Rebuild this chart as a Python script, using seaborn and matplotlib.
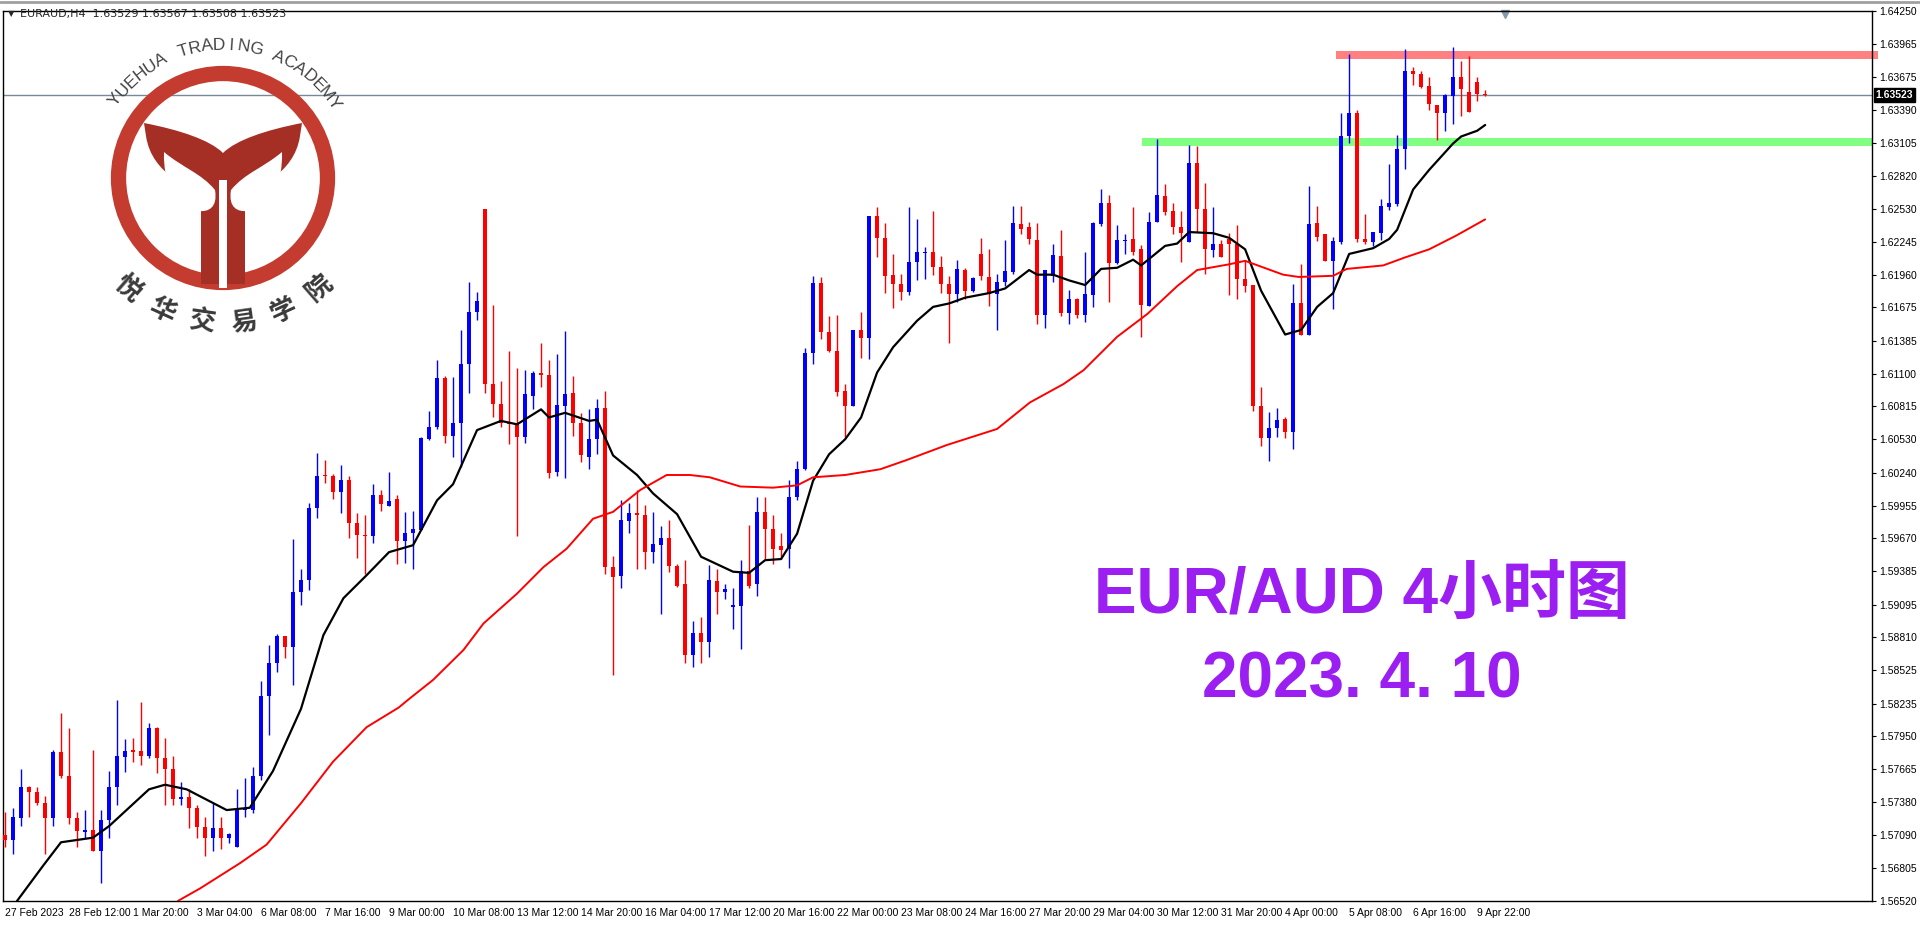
import numpy as np
import pandas as pd
import seaborn as sns
import matplotlib.pyplot as plt
from matplotlib.patches import Circle, PathPatch, Rectangle
from matplotlib.path import Path

# ---- candles ----
opens = [
    1.5709, 1.5705, 1.5724, 1.5751, 1.5747, 1.5737, 1.5724, 1.5781, 1.5761, 1.5724,
    1.5712, 1.5714, 1.5695, 1.5722, 1.5751, 1.5777, 1.5783, 1.5782, 1.5778, 1.5802,
    1.5776, 1.5767, 1.5741, 1.5742, 1.5733, 1.5716, 1.5707, 1.5715, 1.5707, 1.5699,
    1.5731, 1.5731, 1.5761, 1.5830, 1.5859, 1.5882, 1.5873, 1.5920, 1.5931, 1.5993,
    1.6022, 1.6021, 1.6007, 1.6018, 1.5980, 1.5970, 1.5969, 1.6005, 1.5995, 1.6001,
    1.5965, 1.5972, 1.5974, 1.6053, 1.6064, 1.6106, 1.6056, 1.6067, 1.6118, 1.6164,
    1.6253, 1.6101, 1.6084, 1.6067, 1.6067, 1.6055, 1.6091, 1.6111, 1.6109, 1.6025,
    1.6082, 1.6093, 1.6067, 1.6038, 1.6053, 1.6080, 1.5942, 1.5934, 1.5982, 1.5989,
    1.5987, 1.5955, 1.5961, 1.5967, 1.5943, 1.5927, 1.5866, 1.5885, 1.5877, 1.5930,
    1.5920, 1.5907, 1.5908, 1.5939, 1.5927, 1.5990, 1.5975, 1.5960, 1.5958, 1.6003,
    1.6027, 1.6128, 1.6189, 1.6146, 1.6130, 1.6095, 1.6082, 1.6148, 1.6141, 1.6247,
    1.6228, 1.6196, 1.6188, 1.6181, 1.6207, 1.6215, 1.6216, 1.6203, 1.6188, 1.6179,
    1.6200, 1.6182, 1.6214, 1.6194, 1.6179, 1.6190, 1.6198, 1.6240, 1.6237, 1.6226,
    1.6161, 1.6195, 1.6212, 1.6163, 1.6175, 1.6161, 1.6178, 1.6240, 1.6258, 1.6206,
    1.6225, 1.6227, 1.6218, 1.6169, 1.6242, 1.6264, 1.6251, 1.6237, 1.6224, 1.6293,
    1.6253, 1.6217, 1.6223, 1.6227, 1.6223, 1.6192, 1.6187, 1.6082, 1.6054, 1.6063,
    1.6071, 1.6059, 1.6171, 1.6144, 1.6241, 1.6231, 1.6208, 1.6224, 1.6316, 1.6336,
    1.6227, 1.6224, 1.6232, 1.6255, 1.6257, 1.6305, 1.6373, 1.6370, 1.6360, 1.6343,
    1.6336, 1.6351, 1.6368, 1.6355, 1.6363, 1.63529,
]
highs = [
    1.5729, 1.5733, 1.5767, 1.5752, 1.5751, 1.5743, 1.5783, 1.5815, 1.5802, 1.5729,
    1.5731, 1.5783, 1.5731, 1.5765, 1.5827, 1.5793, 1.5794, 1.5825, 1.5807, 1.5803,
    1.5794, 1.5778, 1.5755, 1.5749, 1.5735, 1.5725, 1.5737, 1.5725, 1.5711, 1.5749,
    1.5759, 1.5768, 1.5843, 1.5874, 1.5884, 1.5882, 1.5966, 1.5940, 1.5998, 1.6041,
    1.6035, 1.6023, 1.6031, 1.6021, 1.5989, 1.5987, 1.6014, 1.6009, 1.6025, 1.6005,
    1.5990, 1.5991, 1.6055, 1.6078, 1.6122, 1.6108, 1.6107, 1.6148, 1.6190, 1.6181,
    1.6253, 1.6170, 1.6104, 1.6130, 1.6115, 1.6113, 1.6112, 1.6137, 1.6122, 1.6127,
    1.6147, 1.6108, 1.6076, 1.6079, 1.6088, 1.6095, 1.5952, 1.6000, 1.5998, 1.6009,
    1.5996, 1.5990, 1.5978, 1.5983, 1.5945, 1.5948, 1.5895, 1.5899, 1.5944, 1.5940,
    1.5927, 1.5924, 1.5948, 1.5979, 1.6003, 1.6003, 1.5987, 1.5972, 1.6018, 1.6034,
    1.6132, 1.6195, 1.6194, 1.6160, 1.6161, 1.6101, 1.6148, 1.6164, 1.6247, 1.6255,
    1.6241, 1.6214, 1.6197, 1.6255, 1.6244, 1.6220, 1.6251, 1.6212, 1.6195, 1.6209,
    1.6202, 1.6194, 1.6228, 1.6218, 1.6197, 1.6226, 1.6256, 1.6256, 1.6242, 1.6241,
    1.6200, 1.6223, 1.6235, 1.6183, 1.6176, 1.6216, 1.6242, 1.6270, 1.6265, 1.6239,
    1.6231, 1.6255, 1.6222, 1.6250, 1.6314, 1.6275, 1.6258, 1.6251, 1.6309, 1.6308,
    1.6276, 1.6255, 1.6226, 1.6232, 1.6239, 1.6209, 1.6187, 1.6098, 1.6077, 1.6080,
    1.6072, 1.6188, 1.6205, 1.6273, 1.6256, 1.6231, 1.6229, 1.6336, 1.6388, 1.6339,
    1.6249, 1.6233, 1.6262, 1.6292, 1.6317, 1.6392, 1.6376, 1.6373, 1.6368, 1.6343,
    1.6353, 1.6394, 1.6382, 1.6386, 1.6368, 1.63567,
]
lows = [
    1.5699, 1.5693, 1.5717, 1.5725, 1.5735, 1.5693, 1.5717, 1.5759, 1.5719, 1.5699,
    1.5707, 1.5695, 1.5668, 1.5707, 1.5735, 1.5764, 1.5773, 1.5770, 1.5776, 1.5763,
    1.5735, 1.5735, 1.5735, 1.5715, 1.5707, 1.5691, 1.5695, 1.5697, 1.5702, 1.5699,
    1.5725, 1.5728, 1.5757, 1.5796, 1.5851, 1.5863, 1.5840, 1.5909, 1.5922, 1.5985,
    1.6015, 1.6001, 1.5989, 1.5967, 1.5950, 1.5936, 1.5963, 1.5991, 1.5995, 1.5945,
    1.5946, 1.5940, 1.5974, 1.6052, 1.6062, 1.6050, 1.6038, 1.6029, 1.6093, 1.6157,
    1.6093, 1.6072, 1.6064, 1.6049, 1.5969, 1.6050, 1.6079, 1.6098, 1.6019, 1.6021,
    1.6019, 1.6056, 1.6033, 1.6027, 1.6040, 1.5936, 1.5848, 1.5924, 1.5972, 1.5940,
    1.5940, 1.5946, 1.5901, 1.5938, 1.5925, 1.5859, 1.5855, 1.5859, 1.5864, 1.5901,
    1.5914, 1.5888, 1.5871, 1.5924, 1.5917, 1.5948, 1.5945, 1.5949, 1.5941, 1.6000,
    1.6026, 1.6118, 1.6140, 1.6129, 1.6091, 1.6055, 1.6082, 1.6124, 1.6123, 1.6211,
    1.6180, 1.6167, 1.6174, 1.6178, 1.6191, 1.6192, 1.6196, 1.6180, 1.6137, 1.6172,
    1.6175, 1.6181, 1.6191, 1.6169, 1.6148, 1.6186, 1.6197, 1.6231, 1.6223, 1.6153,
    1.6150, 1.6190, 1.6160, 1.6153, 1.6158, 1.6155, 1.6168, 1.6238, 1.6172, 1.6205,
    1.6214, 1.6213, 1.6142, 1.6169, 1.6242, 1.6248, 1.6231, 1.6207, 1.6224, 1.6233,
    1.6197, 1.6211, 1.6211, 1.6178, 1.6175, 1.6181, 1.6078, 1.6047, 1.6034, 1.6055,
    1.6054, 1.6045, 1.6144, 1.6144, 1.6225, 1.6208, 1.6166, 1.6223, 1.6310, 1.6224,
    1.6223, 1.6221, 1.6226, 1.6252, 1.6256, 1.6288, 1.6361, 1.6358, 1.6339, 1.6313,
    1.6321, 1.6327, 1.6334, 1.6337, 1.6347, 1.63508,
]
closes = [
    1.5705, 1.5725, 1.5751, 1.5747, 1.5737, 1.5724, 1.5781, 1.5761, 1.5724, 1.5713,
    1.5714, 1.5695, 1.5722, 1.5751, 1.5778, 1.5782, 1.5781, 1.5778, 1.5802, 1.5776,
    1.5767, 1.5741, 1.5742, 1.5733, 1.5716, 1.5707, 1.5715, 1.5707, 1.5710, 1.5731,
    1.5732, 1.5761, 1.5830, 1.5859, 1.5882, 1.5873, 1.5920, 1.5931, 1.5993, 1.6021,
    1.6021, 1.6007, 1.6018, 1.5980, 1.5970, 1.5969, 1.6005, 1.5997, 1.5999, 1.5965,
    1.5972, 1.5975, 1.6054, 1.6064, 1.6106, 1.6056, 1.6067, 1.6118, 1.6164, 1.6173,
    1.6101, 1.6084, 1.6067, 1.6066, 1.6055, 1.6092, 1.6111, 1.6109, 1.6024, 1.6083,
    1.6092, 1.6067, 1.6039, 1.6053, 1.6080, 1.5942, 1.5933, 1.5983, 1.5989, 1.5987,
    1.5955, 1.5962, 1.5967, 1.5943, 1.5926, 1.5866, 1.5885, 1.5877, 1.5931, 1.5920,
    1.5923, 1.5909, 1.5939, 1.5926, 1.5990, 1.5975, 1.5958, 1.5957, 1.6003, 1.6027,
    1.6128, 1.6189, 1.6146, 1.6130, 1.6094, 1.6082, 1.6148, 1.6141, 1.6247, 1.6228,
    1.6195, 1.6188, 1.6181, 1.6207, 1.6216, 1.6216, 1.6203, 1.6188, 1.6179, 1.6201,
    1.6182, 1.6193, 1.6195, 1.6179, 1.6190, 1.6199, 1.6241, 1.6236, 1.6227, 1.6161,
    1.6200, 1.6213, 1.6163, 1.6175, 1.6161, 1.6179, 1.6241, 1.6258, 1.6206, 1.6226,
    1.6226, 1.6216, 1.6170, 1.6242, 1.6265, 1.6250, 1.6237, 1.6232, 1.6293, 1.6253,
    1.6218, 1.6223, 1.6211, 1.6223, 1.6192, 1.6186, 1.6082, 1.6054, 1.6063, 1.6070,
    1.6059, 1.6171, 1.6144, 1.6240, 1.6229, 1.6208, 1.6225, 1.6316, 1.6336, 1.6227,
    1.6224, 1.6233, 1.6256, 1.6258, 1.6305, 1.6373, 1.6370, 1.6359, 1.6344, 1.6336,
    1.6352, 1.6368, 1.6357, 1.6337, 1.6353, 1.63523,
]

# moving averages read at sample bars
fast_ma_bar = [1.5, 4.8, 7, 11, 13, 18, 20, 22.7, 27.7, 30.6, 33.5, 37, 39.8, 42.3, 45.2, 48,
               51, 54, 56, 59, 62, 64, 67, 68, 70, 73, 74, 76, 79, 81, 84, 87, 91, 93, 95, 97, 99,
               101, 103, 105, 107, 109, 111, 114, 116, 118, 120, 123, 125, 128, 129, 131, 133,
               135, 137, 139, 141, 142, 145, 146.5, 148, 151, 153, 155, 157, 160, 162, 164, 166,
               168, 171, 173, 174, 176, 178, 181, 182, 184, 185]
fast_ma = [1.5652, 1.5683, 1.5703, 1.5707, 1.5717, 1.5749, 1.5753, 1.5749, 1.5731, 1.5733,
           1.5765, 1.5819, 1.5883, 1.5915, 1.5935, 1.5955,
           1.5961, 1.6000, 1.6014, 1.6061, 1.6069, 1.6066, 1.6079, 1.6072, 1.6076, 1.6069,
           1.6070, 1.6039, 1.6022, 1.6006, 1.5988, 1.5951, 1.5938, 1.5937, 1.5948, 1.5949, 1.5971,
           1.6017, 1.6040, 1.6053, 1.6072, 1.6111, 1.6133, 1.6156, 1.6168, 1.6171, 1.6176, 1.6180,
           1.6184, 1.6200, 1.6196, 1.6196, 1.6191, 1.6187, 1.6201, 1.6202, 1.6209, 1.6204,
           1.6221, 1.6223, 1.6233, 1.6232, 1.6228, 1.6218, 1.6182, 1.6144, 1.6148, 1.6168,
           1.6180, 1.6214, 1.6219, 1.6227, 1.6235, 1.6270, 1.6287, 1.6310, 1.6316, 1.6321, 1.6326]
slow_ma_bar = [21.6, 24.4, 29.4, 32.7, 37, 41, 45.2, 49.2, 50.6, 53.5, 57.3, 59.8, 64, 67.3,
               70.2, 73.5, 76, 79.4, 82.7, 85.6, 88.1, 91.9, 96, 99, 101, 105, 109.4, 112.7,
               117.7, 124, 128.1, 132.3, 134.8, 139, 142.8, 146.5, 149, 153, 155, 159.75, 161.7,
               166, 167.7, 172.25, 175, 178, 181.4, 185]
slow_ma = [1.5652, 1.5663, 1.5685, 1.5701, 1.5737, 1.5773, 1.5803, 1.5820, 1.5828, 1.5844,
           1.5870, 1.5893, 1.5919, 1.5942, 1.5958, 1.5984, 1.5990, 1.6009, 1.6022, 1.6022,
           1.6020, 1.6012, 1.6011, 1.6013, 1.6020, 1.6022, 1.6027, 1.6035, 1.6048, 1.6062,
           1.6085, 1.6101, 1.6113, 1.6142, 1.6162, 1.6186, 1.6200, 1.6205, 1.6208, 1.6196,
           1.6194, 1.6195, 1.6201, 1.6204, 1.6211, 1.6218, 1.6230, 1.6244]

price_ticks = [1.64250, 1.63965, 1.63675, 1.63390, 1.63105, 1.62820, 1.62530, 1.62245,
               1.61960, 1.61675, 1.61385, 1.61100, 1.60815, 1.60530, 1.60240, 1.59955,
               1.59670, 1.59385, 1.59095, 1.58810, 1.58525, 1.58235, 1.57950, 1.57665,
               1.57380, 1.57090, 1.56805, 1.56520]
date_labels = ["27 Feb 2023", "28 Feb 12:00", "1 Mar 20:00", "3 Mar 04:00", "6 Mar 08:00",
               "7 Mar 16:00", "9 Mar 00:00", "10 Mar 08:00", "13 Mar 12:00", "14 Mar 20:00",
               "16 Mar 04:00", "17 Mar 12:00", "20 Mar 16:00", "22 Mar 00:00", "23 Mar 08:00",
               "24 Mar 16:00", "27 Mar 20:00", "29 Mar 04:00", "30 Mar 12:00", "31 Mar 20:00",
               "4 Apr 00:00", "5 Apr 08:00", "6 Apr 16:00", "9 Apr 22:00"]
resistance = (1.6383, 1.6390, 166.3)   # low, high, start bar
support = (1.6308, 1.6315, 142.1)
last_price = 1.63523

df = pd.DataFrame({"open": opens, "high": highs, "low": lows, "close": closes})
df["bar"] = np.arange(len(df))
df["color"] = np.where(df["close"] >= df["open"], "#0000ff", "#ff0000")

sns.set_style("white")
plt.rcParams["font.family"] = ["DejaVu Sans"]
narrow = ["Liberation Sans Narrow", "Liberation Sans", "DejaVu Sans"]

W, H = 1920, 927
fig = plt.figure(figsize=(W / 100, H / 100), dpi=100)
ax = fig.add_axes([3 / W, 1 - 901 / H, 1869 / W, 890 / H])

# zones
ax.axhspan(resistance[0], resistance[1], xmin=(resistance[2] + 0.3) / 233.6, xmax=1.003,
           color="#ff8080", lw=0, clip_on=False, zorder=1)
ax.axhspan(support[0], support[1], xmin=(support[2] + 0.3) / 233.6, xmax=1.0,
           color="#80ff80", lw=0, zorder=1)
ax.axhline(last_price, color="#778899", lw=1, zorder=1)

# candles
ax.vlines(df["bar"], df["low"], df["high"], colors=df["color"], lw=1.0, zorder=3)
body = (df["close"] - df["open"]).abs().clip(lower=0.00009)
ax.bar(df["bar"], body, bottom=df[["open", "close"]].min(axis=1), width=0.5,
       color=df["color"], lw=0, zorder=3)

sns.lineplot(x=fast_ma_bar, y=fast_ma, color="black", lw=1.6, ax=ax, zorder=4)
sns.lineplot(x=slow_ma_bar, y=slow_ma, color="#ff0000", lw=1.4, ax=ax, zorder=4)

ax.set_xlim(-0.25, 233.35)
ax.set_ylim(1.56526, 1.64247)
ax.yaxis.tick_right()
ax.set_yticks(price_ticks)
ax.set_yticklabels([f"{p:.5f}" for p in price_ticks], fontsize=7.5, family=narrow)
ax.set_xticks(np.arange(len(date_labels)) * 8)
ax.set_xticklabels(date_labels, fontsize=7.5, ha="left", family=narrow)
ax.tick_params(axis="both", direction="out", length=3, width=0.8, pad=2, colors="black")
for s in ax.spines.values():
    s.set_color("black")
    s.set_linewidth(1.0)
ax.text(1.002, last_price, f"{last_price:.5f}", transform=ax.get_yaxis_transform(),
        ha="left", va="center", fontsize=7.5, color="white", fontweight="bold", family=narrow,
        bbox=dict(boxstyle="square,pad=0.2", fc="black", ec="black"))
ax.plot([187.5], [1.64225], marker="v", color="#8899aa", ms=6, clip_on=False)

fig.text(8 / W, 1 - 14 / H, "▼", fontsize=6, va="center")
fig.text(20 / W, 1 - 14 / H, "EURAUD,H4  1.63529 1.63567 1.63508 1.63523",
         fontsize=8, va="center")
fig.add_artist(plt.Line2D([0, 1], [1 - 2 / H, 1 - 2 / H], color="#a0a0a0", lw=2))

# big title text
purple = "#9a1ff0"
title_font = ["Liberation Sans", "Noto Sans CJK SC"]
fig.text(1362 / W, 1 - 597 / H, "EUR/AUD 4小时图", fontsize=46, color=purple,
         fontweight="bold", ha="center", va="center", family=title_font)
fig.text(1362 / W, 1 - 681 / H, "2023. 4. 10", fontsize=46, color=purple,
         fontweight="bold", ha="center", va="center", family=title_font)

# watermark logo, drawn in pixel units around the ring centre
cx, cy = 223, 178
lg = fig.add_axes([(cx - 200) / W, 1 - (cy + 200) / H, 400 / W, 400 / H])
lg.set_xlim(-200, 200)
lg.set_ylim(-200, 200)
lg.axis("off")
lg.patch.set_alpha(0)
ring_red = "#c43c2f"
dark_red = "#a52f24"
lg.add_patch(Circle((0, 0), 104.5, fill=False, lw=11, ec=ring_red))

C, L, M = Path.CURVE4, Path.LINETO, Path.MOVETO
y_outer = [(-79, 55), (-43, 48), (-13, 38), (0, 25), (13, 38), (43, 48), (79, 55),
           (77, 42), (71, 2), (31, -8), (22, -22), (22, -106), (-22, -106), (-22, -22),
           (-31, -8), (-71, 2), (-77, 42), (-79, 55)]
y_codes = [M, C, C, C, C, C, C, L, C, C, C, L, L, L, C, C, C, L]
lg.add_patch(PathPatch(Path(y_outer, y_codes), fc=dark_red, ec="none"))
for sgn in (-1, 1):
    leaf = [(sgn * 59, 26), (sgn * 40, 10), (sgn * 22, 5), (sgn * 8, -12),
            (sgn * 5, -30), (sgn * 15, -34), (sgn * 24, -33),
            (sgn * 45, -28), (sgn * 60, -10), (sgn * 59, 26)]
    codes = [M, C, C, C, C, C, C, C, C, C]
    lg.add_patch(PathPatch(Path(leaf, codes), fc="white", ec="none"))
lg.add_patch(Rectangle((-4, -110), 8, 108, fc="white", ec="none"))

arc_text = "YUEHUA TRADING ACADEMY"
angs = np.linspace(144, 34, len(arc_text))
for ch, a in zip(arc_text, angs):
    r = 133
    lg.text(r * np.cos(np.radians(a)), r * np.sin(np.radians(a)), ch, fontsize=12.5,
            color="#444444", rotation=a - 90, ha="center", va="center",
            family=["Liberation Sans", "DejaVu Sans"])
cn_text = "悦华交易学院"
angs = np.linspace(-131, -49, len(cn_text))
for ch, a in zip(cn_text, angs):
    r = 146
    lg.text(r * np.cos(np.radians(a)), r * np.sin(np.radians(a)), ch, fontsize=19,
            color="#3a3a3a", rotation=a + 90, ha="center", va="center", fontweight="bold",
            family=["Noto Sans CJK SC", "DejaVu Sans"])

fig.savefig("out.png", dpi=100)
